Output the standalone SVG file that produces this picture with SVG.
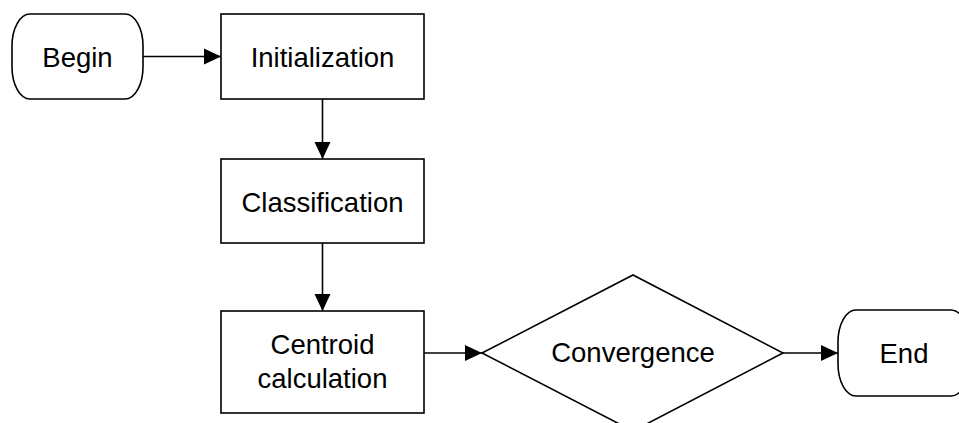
<svg xmlns="http://www.w3.org/2000/svg" width="959" height="423" viewBox="0 0 959 423">
  <style>
    .shape { fill: #ffffff; stroke: #000000; stroke-width: 1.6; }
    .label { font-family: "Liberation Sans", Arial, sans-serif; font-size: 27.5px; fill: #000000; text-anchor: middle; }
    .edge { fill: none; stroke: #000000; stroke-width: 1.6; marker-end: url(#arrow); }
  </style>
  <defs>
    <marker id="arrow" markerUnits="userSpaceOnUse" markerWidth="18" markerHeight="18" viewBox="0 0 18 18" refX="17" refY="9" orient="auto">
      <path d="M0,1 L17,9 L0,17 Z" fill="#000000"/>
    </marker>
  </defs>

  <rect width="959" height="423" fill="#ffffff"/>

  <g id="connectors">
    <line class="edge" x1="143" y1="56.5" x2="221" y2="56.5"/>
    <line class="edge" x1="322.5" y1="99" x2="322.5" y2="159"/>
    <line class="edge" x1="322.5" y1="243" x2="322.5" y2="311"/>
    <line class="edge" x1="424" y1="353" x2="482" y2="353"/>
    <line class="edge" x1="783" y1="353" x2="838" y2="353"/>
  </g>

  <g id="begin">
    <rect class="shape" x="12" y="14" width="131" height="85" rx="18" ry="32"/>
    <text class="label" x="77.5" y="67">Begin</text>
  </g>

  <g id="initialization">
    <rect class="shape" x="221" y="14" width="203" height="85"/>
    <text class="label" x="322.5" y="67">Initialization</text>
  </g>

  <g id="classification">
    <rect class="shape" x="221" y="159" width="203" height="84"/>
    <text class="label" x="322.5" y="212">Classification</text>
  </g>

  <g id="centroid">
    <rect class="shape" x="221" y="311" width="203" height="102"/>
    <text class="label" x="322.5" y="354">Centroid</text>
    <text class="label" x="322.5" y="388">calculation</text>
  </g>

  <g id="convergence">
    <polygon class="shape" points="482,353 633,275 783,353 633,431"/>
    <text class="label" x="633" y="362">Convergence</text>
  </g>

  <g id="end">
    <rect class="shape" x="838" y="310" width="131" height="86" rx="18" ry="32"/>
    <text class="label" x="904" y="363">End</text>
  </g>
</svg>
